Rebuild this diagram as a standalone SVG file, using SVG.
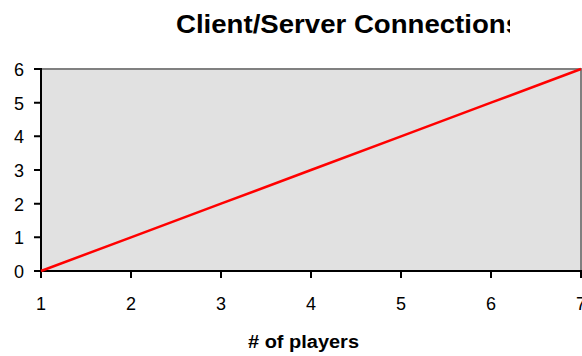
<svg xmlns="http://www.w3.org/2000/svg" width="582" height="356" viewBox="0 0 582 356">
  <style>
    .title { font-family: "Liberation Sans", Arial, sans-serif; font-weight: bold; font-size: 25px; fill: #000; }
    .axis-title { font-family: "Liberation Sans", Arial, sans-serif; font-weight: bold; font-size: 18px; fill: #000; }
    .tick-label { font-family: "Liberation Sans", Arial, sans-serif; font-size: 18px; fill: #000; }
    .axis { stroke: #000; stroke-width: 2; fill: none; }
    .frame { stroke: #808080; stroke-width: 2; fill: none; }
    .series { stroke: #ff0000; stroke-width: 2.5; fill: none; stroke-linejoin: round; }
  </style>
  <defs>
    <clipPath id="titleClip">
      <rect x="0" y="0" width="510" height="60"/>
    </clipPath>
  </defs>
  <rect x="0" y="0" width="582" height="356" fill="#ffffff"/>

  <!-- chart title -->
  <g id="title" clip-path="url(#titleClip)">
    <text class="title" x="176" y="33" textLength="345" lengthAdjust="spacingAndGlyphs">Client/Server Connections</text>
  </g>

  <!-- plot area -->
  <g id="plot-area">
    <rect x="41" y="69" width="541" height="202" fill="#e1e1e1"/>
    <line class="frame" x1="41" y1="69" x2="582" y2="69"/>
    <line class="frame" x1="581" y1="69" x2="581" y2="271"/>
  </g>

  <!-- value axis -->
  <g id="y-axis">
    <line class="axis" x1="41" y1="68" x2="41" y2="272"/>
    <path class="axis" d="M34 69H41M34 102.7H41M34 136.3H41M34 170H41M34 203.7H41M34 237.3H41M34 271H41"/>
    <g class="tick-label" text-anchor="end">
      <text x="24" y="76">6</text>
      <text x="24" y="109.7">5</text>
      <text x="24" y="143.3">4</text>
      <text x="24" y="177">3</text>
      <text x="24" y="210.7">2</text>
      <text x="24" y="244.3">1</text>
      <text x="24" y="278">0</text>
    </g>
  </g>

  <!-- category axis -->
  <g id="x-axis">
    <line class="axis" x1="34" y1="271" x2="582" y2="271"/>
    <path class="axis" d="M41 271V278M131 271V278M221 271V278M311 271V278M401 271V278M491 271V278M581 271V278"/>
    <g class="tick-label" text-anchor="middle">
      <text x="41" y="310">1</text>
      <text x="131" y="310">2</text>
      <text x="221" y="310">3</text>
      <text x="311" y="310">4</text>
      <text x="401" y="310">5</text>
      <text x="491" y="310">6</text>
      <text x="581" y="310">7</text>
    </g>
    <text id="x-axis-title" class="axis-title" x="248" y="348" textLength="111" lengthAdjust="spacingAndGlyphs"># of players</text>
  </g>

  <!-- data series -->
  <g id="connectors">
    <polyline class="series" points="41,271 131,237.3 221,203.7 311,170 401,136.3 491,102.7 581,69"/>
  </g>
</svg>
